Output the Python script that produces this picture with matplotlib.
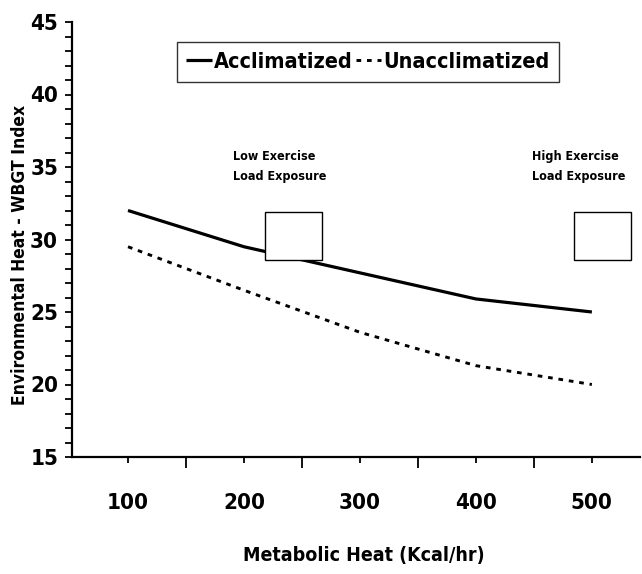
import matplotlib
matplotlib.use("Agg")
import matplotlib.pyplot as plt
from matplotlib.patches import Rectangle
from matplotlib.ticker import MultipleLocator, FixedLocator
from matplotlib import font_manager as fm

# ---- data ----
metabolic_heat = [100, 200, 300, 400, 500]
acclimatized = [32.0, 29.5, 27.7, 25.9, 25.0]
unacclimatized = [29.5, 26.5, 23.6, 21.3, 20.0]
series_labels = ["Acclimatized", "Unacclimatized"]
x_tick_values = [100, 200, 300, 400, 500]
x_tick_labels = ["100", "200", "300", "400", "500"]
y_tick_values = [15, 20, 25, 30, 35, 40, 45]
annot_texts = ["Low Exercise\nLoad Exposure", "High Exercise\nLoad Exposure"]
annot_x = [190.5, 448.0]
box_x = [218, 484.5]
box_w = 49
box_y = 28.6
box_h = 3.3

names = {f.name for f in fm.fontManager.ttflist}
if "Liberation Sans Narrow" in names:
    NARROW = ["Liberation Sans Narrow", "DejaVu Sans"]
    STRETCH = "normal"
else:
    NARROW = ["DejaVu Sans"]
    STRETCH = "condensed"

W, H = 642, 574
fig = plt.figure(figsize=(W / 100, H / 100), dpi=100)
fig.patch.set_facecolor("white")
ax = fig.add_axes([72 / W, (H - 457) / H, (640 - 72) / W, (457 - 22) / H])
ax.set_facecolor("white")

ax.plot(metabolic_heat, acclimatized, color="black", lw=2.3,
        solid_capstyle="butt", label=series_labels[0], zorder=2)
ax.plot(metabolic_heat, unacclimatized, color="black", lw=2.1,
        linestyle=(0, (1.6, 2.0)), label=series_labels[1], zorder=2)

for bx in box_x:
    ax.add_patch(Rectangle((bx, box_y), box_w, box_h, facecolor="white",
                           edgecolor="black", lw=1.0, zorder=3))
for tx, t in zip(annot_x, annot_texts):
    ax.text(tx, 35.05, t, ha="left", va="center", fontsize=9,
            fontweight="bold", family=NARROW, fontstretch=STRETCH,
            linespacing=1.7)

ax.set_xlim(51.7, 541.5)
ax.set_ylim(15, 45)
for s in ["top", "right"]:
    ax.spines[s].set_visible(False)
ax.spines["left"].set_linewidth(1.6)
ax.spines["bottom"].set_linewidth(1.6)

ax.xaxis.set_major_locator(FixedLocator(x_tick_values))
ax.set_xticklabels(x_tick_labels)
ax.xaxis.set_minor_locator(FixedLocator([150, 250, 350, 450]))
ax.tick_params(axis="x", which="major", length=4, width=1.3, pad=22)
ax.tick_params(axis="x", which="minor", length=8, width=1.3)
ax.yaxis.set_major_locator(FixedLocator(y_tick_values))
ax.yaxis.set_minor_locator(MultipleLocator(1))
ax.tick_params(axis="y", which="both", length=5, width=1.3, pad=5)
for lab in ax.get_xticklabels() + ax.get_yticklabels():
    lab.set_fontfamily(NARROW)
    lab.set_fontstretch(STRETCH)
    lab.set_fontweight("bold")
    lab.set_fontsize(16)

ax.set_xlabel("Metabolic Heat (Kcal/hr)", fontsize=14, fontweight="bold",
              family=NARROW, fontstretch=STRETCH, va="center")
ax.xaxis.set_label_coords((364 - 72) / 568, -(555 - 457) / 435)
ax.set_ylabel("Environmental Heat - WBGT Index", fontsize=12.5,
              fontweight="bold", family=NARROW, fontstretch=STRETCH,
              va="center")
ax.yaxis.set_label_coords((20 - 72) / 568, (457 - 255) / 435)

leg = ax.legend(loc="center", bbox_to_anchor=((368 - 72) / 568, (457 - 62) / 435),
                ncol=2, frameon=True, fancybox=False, handlelength=1.2,
                handletextpad=0.1, columnspacing=0.12, borderpad=0.45,
                borderaxespad=0,
                prop=fm.FontProperties(family=NARROW, weight="bold", size=15.5,
                                       stretch=STRETCH))
leg.get_frame().set_edgecolor("black")
leg.get_frame().set_linewidth(1.0)

fig.savefig("out.png", dpi=100, facecolor="white")
